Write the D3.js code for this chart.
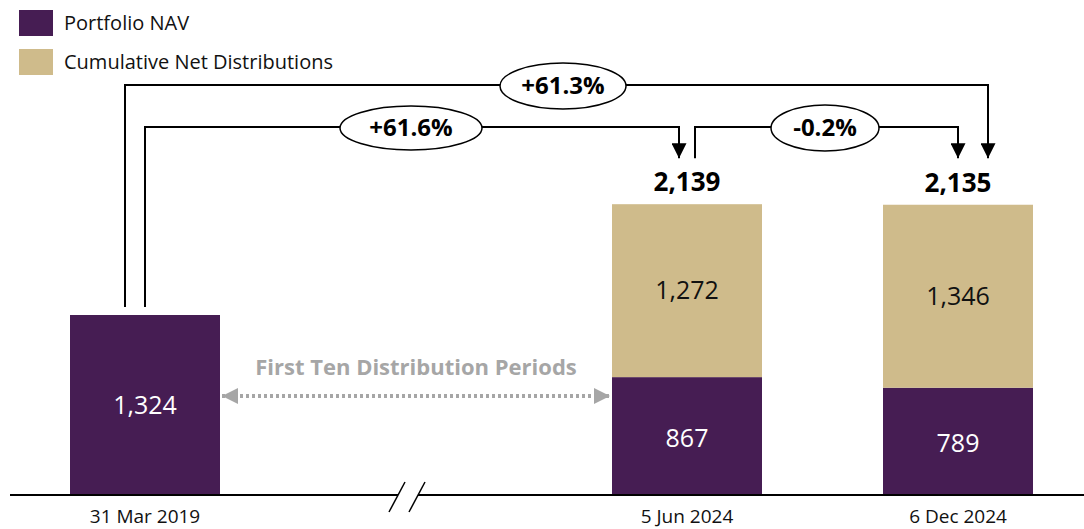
<!DOCTYPE html>
<html>
<head>
<meta charset="utf-8">
<script src="https://cdn.jsdelivr.net/npm/d3@7"></script>
<style>
  body { margin: 0; background: #fff; }
  text { font-family: "Open Sans", "Noto Sans", sans-serif; }
</style>
</head>
<body>
<div id="chart"></div>
<script>
// data
var dates = ["31 Mar 2019", "5 Jun 2024", "6 Dec 2024"];
var nav = [1324, 867, 789];
var dist = [0, 1272, 1346];
var totals = [1324, 2139, 2135];
var changes = [
  {from: 0, to: 2, label: "+61.3%"},
  {from: 0, to: 1, label: "+61.6%"},
  {from: 1, to: 2, label: "-0.2%"}
];
var periodLabel = "First Ten Distribution Periods";

var width = 1084, height = 529;
var purple = "#461d53", tan = "#cfbb8b", grey = "#a6a6a6";
var fmt = d3.format(",");

var svg = d3.select("#chart").append("svg")
    .attr("width", width)
    .attr("height", height);

// band scale with a hidden slot for the axis break
var slots = [dates[0], "gap", dates[1], dates[2]];
var x = d3.scaleBand()
    .domain(slots)
    .range([9.5, 9.5 + 4 * 271])
    .paddingInner(0.4465)
    .paddingOuter(0.4465 / 2);

var y = d3.scaleLinear()
    .domain([0, 1324])
    .range([495, 315]);

var bw = x.bandwidth();
var cx = function(i){ return x(dates[i]) + bw / 2; };

var rows = dates.map(function(d, i){
  return {date: d, i: i, nav: nav[i], dist: dist[i], total: totals[i]};
});
var stacked = rows.filter(function(d){ return d.dist > 0; });

// bars
svg.selectAll(".nav").data(rows).enter().append("rect")
    .attr("x", function(d){ return x(d.date); })
    .attr("y", function(d){ return y(d.nav); })
    .attr("width", bw)
    .attr("height", function(d){ return y(0) - y(d.nav); })
    .attr("fill", purple);

svg.selectAll(".dist").data(stacked).enter().append("rect")
    .attr("x", function(d){ return x(d.date); })
    .attr("y", function(d){ return y(d.nav + d.dist); })
    .attr("width", bw)
    .attr("height", function(d){ return y(0) - y(d.dist); })
    .attr("fill", tan);

// labels inside bars
svg.selectAll(".navlbl").data(rows).enter().append("text")
    .attr("x", function(d){ return cx(d.i); })
    .attr("y", function(d){ return (y(d.nav) + y(0)) / 2 + (d.i == 0 ? 0 : 2); })
    .attr("dy", "0.35em")
    .attr("text-anchor", "middle")
    .attr("fill", "#fff")
    .style("font-size", "25px")
    .text(function(d){ return fmt(d.nav); });

svg.selectAll(".distlbl").data(stacked).enter().append("text")
    .attr("x", function(d){ return cx(d.i); })
    .attr("y", function(d){ return (y(d.nav + d.dist) + y(d.nav)) / 2; })
    .attr("dy", "0.35em")
    .attr("text-anchor", "middle")
    .attr("fill", "#111")
    .style("font-size", "25px")
    .text(function(d){ return fmt(d.dist); });

// totals
svg.selectAll(".tot").data(stacked).enter().append("text")
    .attr("x", function(d){ return cx(d.i); })
    .attr("y", function(d){ return y(d.total) - 22; })
    .attr("dy", "0.35em")
    .attr("text-anchor", "middle")
    .attr("fill", "#000")
    .style("font-size", "26px")
    .style("font-weight", "bold")
    .text(function(d){ return fmt(d.total); });

// baseline
svg.append("line")
    .attr("x1", 10).attr("x2", width)
    .attr("y1", y(0)).attr("y2", y(0))
    .attr("stroke", "#000").attr("stroke-width", 2);

// axis break
var bx = x("gap") + bw / 2 - 10;
svg.append("path")
    .attr("d", "M" + (bx - 17) + "," + (y(0) + 17) + "L" + (bx - 1) + "," + (y(0) - 13) +
        "L" + (bx + 19) + "," + (y(0) - 13) + "L" + (bx + 3) + "," + (y(0) + 17) + "Z")
    .attr("fill", "#fff");
[-17, 3].forEach(function(o){
  svg.append("line")
    .attr("x1", bx + o).attr("y1", y(0) + 17)
    .attr("x2", bx + o + 16).attr("y2", y(0) - 13)
    .attr("stroke", "#000").attr("stroke-width", 1.5);
});

// x labels
svg.selectAll(".xl").data(dates).enter().append("text")
    .attr("x", function(d, i){ return cx(i); })
    .attr("y", 516)
    .attr("dy", "0.35em")
    .attr("text-anchor", "middle")
    .style("font-size", "19px")
    .attr("fill", "#111")
    .text(function(d){ return d; });

// legend
var legend = [{name: "Portfolio NAV", color: purple}, {name: "Cumulative Net Distributions", color: tan}];
legend.forEach(function(d, i){
  svg.append("rect")
    .attr("x", 19).attr("y", 10 + i * 39)
    .attr("width", 34).attr("height", 26)
    .attr("fill", d.color);
  svg.append("text")
    .attr("x", 64).attr("y", 23 + i * 39)
    .attr("dy", "0.35em")
    .style("font-size", "20px")
    .attr("fill", "#111")
    .text(d.name);
});

// change connectors
var defs = svg.append("defs");
defs.append("marker")
    .attr("id", "arr")
    .attr("viewBox", "0 0 10 10")
    .attr("refX", 10).attr("refY", 5)
    .attr("markerWidth", 15).attr("markerHeight", 15)
    .attr("markerUnits", "userSpaceOnUse")
    .attr("orient", "auto")
    .append("path").attr("d", "M0,0L10,5L0,10Z").attr("fill", "#000");

var tipY = y(totals[1]) - 46;
var conn = [
  {x1: cx(0) - 20, y1: y(nav[0]) - 8, level: 85, x2: cx(2) + 30, ex: 563, rx: 63, ry: 23},
  {x1: cx(0), y1: y(nav[0]) - 8, level: 127, x2: cx(1) - 8, ex: 411, rx: 71, ry: 22},
  {x1: cx(1) + 8, y1: tipY, level: 127, x2: cx(2), ex: 825, rx: 54, ry: 23}
];
conn.forEach(function(c, i){
  svg.append("path")
    .attr("d", "M" + c.x1 + "," + c.y1 + "V" + c.level + "H" + c.x2 + "V" + tipY)
    .attr("fill", "none")
    .attr("stroke", "#000").attr("stroke-width", 2)
    .attr("marker-end", "url(#arr)");
  svg.append("ellipse")
    .attr("cx", c.ex).attr("cy", c.level + 1)
    .attr("rx", c.rx).attr("ry", c.ry)
    .attr("fill", "#fff").attr("stroke", "#000").attr("stroke-width", 1.5);
  svg.append("text")
    .attr("x", c.ex).attr("y", c.level + 1)
    .attr("dy", "0.35em")
    .attr("text-anchor", "middle")
    .style("font-size", "24px").style("font-weight", "bold")
    .text(changes[i].label);
});

// distribution period arrow
defs.append("marker")
    .attr("id", "garr")
    .attr("viewBox", "0 0 10 10")
    .attr("refX", 10).attr("refY", 5)
    .attr("markerWidth", 16).attr("markerHeight", 16)
    .attr("markerUnits", "userSpaceOnUse")
    .attr("orient", "auto-start-reverse")
    .append("path").attr("d", "M0,0L10,5L0,10Z").attr("fill", grey);

var ax1 = x(dates[0]) + bw + 2, ax2 = x(dates[1]) - 2;
svg.append("line")
    .attr("x1", ax1).attr("x2", ax2)
    .attr("y1", 396).attr("y2", 396)
    .attr("stroke", grey).attr("stroke-width", 4)
    .attr("stroke-dasharray", "3,3")
    .attr("marker-start", "url(#garr)")
    .attr("marker-end", "url(#garr)");
svg.append("text")
    .attr("x", (ax1 + ax2) / 2).attr("y", 367)
    .attr("dy", "0.35em")
    .attr("text-anchor", "middle")
    .attr("fill", grey)
    .style("font-size", "22px").style("font-weight", "bold")
    .text(periodLabel);
</script>
</body>
</html>
